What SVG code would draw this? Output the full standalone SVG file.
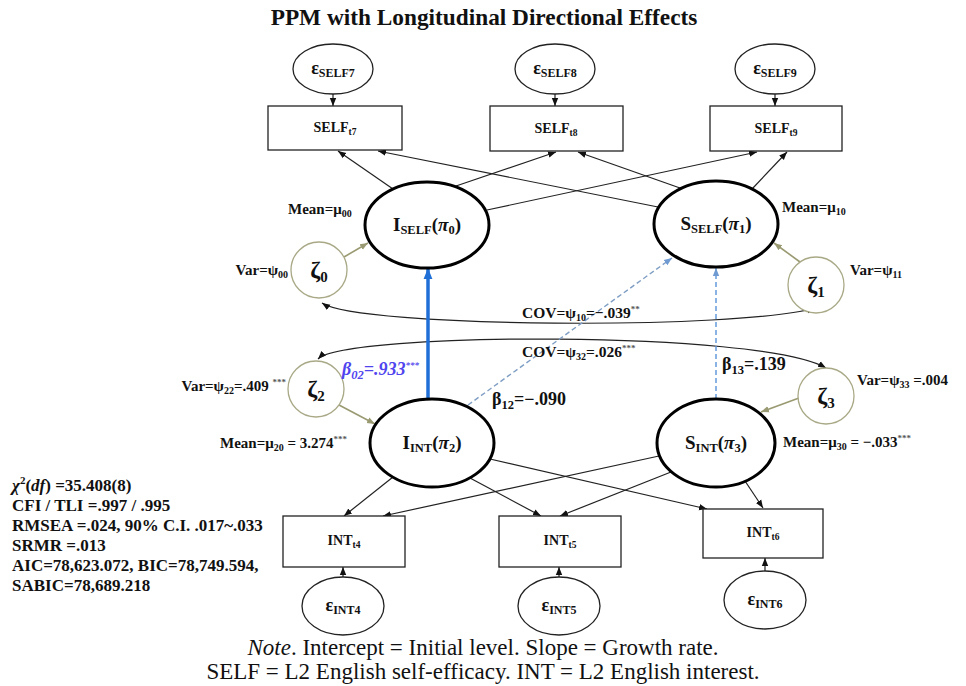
<svg xmlns="http://www.w3.org/2000/svg" width="966" height="686" viewBox="0 0 966 686">
<defs>
<style>
text{font-family:"Liberation Serif","Times New Roman",serif;font-weight:bold;fill:#111}
.title{font-size:23.3px;text-anchor:middle}
.note{font-size:23px;font-weight:normal;text-anchor:middle}
.box{fill:#fff;stroke:#222;stroke-width:1.3}
.bt{font-size:14px;text-anchor:middle}
.bs{font-size:9.5px}
.eps{fill:#fff;stroke:#222;stroke-width:1.3}
.et{font-size:18px;text-anchor:middle}
.es{font-size:12px;font-weight:bold}
.lat{fill:#fff;stroke:#000;stroke-width:3}
.lt{font-size:19px;text-anchor:middle}
.ls{font-size:12.5px}
.zeta{fill:#fff;stroke:#a9a987;stroke-width:1.3}
.zt{font-size:24px;text-anchor:middle}
.zs{font-size:15px}
.lb{font-size:15px}
.s{font-size:10px}
.sup{font-size:9px;fill:#555}
.cov{font-size:15.5px}
.beta{font-size:18px}
.bsub{font-size:12.5px}
.stats{font-size:17px}
.k{fill:none;stroke:#222;stroke-width:1.2}
.ol{fill:none;stroke:#9a9a72;stroke-width:1.6}
</style>
<marker id="ah" viewBox="0 0 10 10" refX="10" refY="5" markerWidth="8" markerHeight="8" markerUnits="userSpaceOnUse" orient="auto-start-reverse"><path d="M0,1 L10,5 L0,9 z" fill="#111"/></marker>
<marker id="ahb" viewBox="0 0 10 10" refX="10" refY="5" markerWidth="11" markerHeight="11" markerUnits="userSpaceOnUse" orient="auto"><path d="M0,1 L10,5 L0,9 z" fill="#1f6fd6"/></marker>
<marker id="ahd" viewBox="0 0 10 10" refX="10" refY="5" markerWidth="8" markerHeight="8" markerUnits="userSpaceOnUse" orient="auto"><path d="M0,1 L10,5 L0,9 z" fill="#6f9bd2"/></marker>
<marker id="aho" viewBox="0 0 10 10" refX="10" refY="5" markerWidth="8" markerHeight="8" markerUnits="userSpaceOnUse" orient="auto"><path d="M0,1 L10,5 L0,9 z" fill="#9a9a72"/></marker>
</defs>
<rect width="966" height="686" fill="#fff"/>

<text class="title" x="484" y="25">PPM with Longitudinal Directional Effects</text>

<g id="connectors">
  <line class="k" x1="333" y1="94" x2="333" y2="106" marker-end="url(#ah)"/>
  <line class="k" x1="555" y1="94" x2="555" y2="106" marker-end="url(#ah)"/>
  <line class="k" x1="775" y1="94" x2="775" y2="106" marker-end="url(#ah)"/>
  <line class="k" x1="343" y1="577" x2="343" y2="567" marker-end="url(#ah)"/>
  <line class="k" x1="559" y1="577" x2="559" y2="567" marker-end="url(#ah)"/>
  <line class="k" x1="765" y1="571" x2="765" y2="558" marker-end="url(#ah)"/>
  <line class="k" x1="393" y1="189" x2="338" y2="151" marker-end="url(#ah)"/>
  <line class="k" x1="456" y1="186" x2="556" y2="152" marker-end="url(#ah)"/>
  <line class="k" x1="487" y1="210" x2="757" y2="152" marker-end="url(#ah)"/>
  <line class="k" x1="658" y1="207" x2="378" y2="151" marker-end="url(#ah)"/>
  <line class="k" x1="680" y1="188" x2="578" y2="152" marker-end="url(#ah)"/>
  <line class="k" x1="752" y1="189" x2="787" y2="152" marker-end="url(#ah)"/>
  <line class="k" x1="393" y1="477" x2="344" y2="516" marker-end="url(#ah)"/>
  <line class="k" x1="470" y1="478" x2="541" y2="516" marker-end="url(#ah)"/>
  <line class="k" x1="490" y1="459" x2="707" y2="509" marker-end="url(#ah)"/>
  <line class="k" x1="659" y1="456" x2="383" y2="516" marker-end="url(#ah)"/>
  <line class="k" x1="671" y1="472" x2="560" y2="516" marker-end="url(#ah)"/>
  <line class="k" x1="745" y1="481" x2="763" y2="508" marker-end="url(#ah)"/>
  <line class="ol" x1="344" y1="257" x2="368" y2="243" marker-end="url(#aho)"/>
  <line class="ol" x1="800" y1="262" x2="774" y2="243" marker-end="url(#aho)"/>
  <line class="ol" x1="339" y1="405" x2="375" y2="424" marker-end="url(#aho)"/>
  <line class="ol" x1="799" y1="398" x2="761" y2="412" marker-end="url(#aho)"/>
  <path class="k" d="M322,303 C360,328 740,330 815,308" marker-start="url(#ah)" marker-end="url(#ah)"/>
  <path class="k" d="M318,359 C345,332 760,330 826,368" marker-start="url(#ah)" marker-end="url(#ah)"/>
  <line x1="428" y1="399" x2="428" y2="268" stroke="#1f6fd6" stroke-width="3.5" marker-end="url(#ahb)"/>
  <line x1="468" y1="405" x2="672" y2="258" stroke="#7f9ec4" stroke-width="1.4" stroke-dasharray="5,3" marker-end="url(#ahd)"/>
  <line x1="716" y1="399" x2="716" y2="268" stroke="#5a95da" stroke-width="1.4" stroke-dasharray="5,3" marker-end="url(#ahd)"/>
</g>

<g id="eps_self7"><ellipse class="eps" cx="333" cy="69" rx="40" ry="25"/><text class="et" x="333" y="74">ε<tspan class="es" dy="3">SELF7</tspan></text></g>
<g id="eps_self8"><ellipse class="eps" cx="555" cy="69" rx="40" ry="25"/><text class="et" x="555" y="74">ε<tspan class="es" dy="3">SELF8</tspan></text></g>
<g id="eps_self9"><ellipse class="eps" cx="775" cy="69" rx="40" ry="25"/><text class="et" x="775" y="74">ε<tspan class="es" dy="3">SELF9</tspan></text></g>

<g id="self_t7"><rect class="box" x="268" y="106" width="134" height="44"/><text class="bt" x="335" y="132">SELF<tspan class="bs" dy="3">t7</tspan></text></g>
<g id="self_t8"><rect class="box" x="490" y="106" width="133" height="45"/><text class="bt" x="556" y="133">SELF<tspan class="bs" dy="3">t8</tspan></text></g>
<g id="self_t9"><rect class="box" x="710" y="106" width="132" height="45"/><text class="bt" x="776" y="133">SELF<tspan class="bs" dy="3">t9</tspan></text></g>

<g id="i_self"><ellipse class="lat" cx="427" cy="225" rx="62" ry="43"/><text class="lt" x="427" y="231">I<tspan class="ls" dy="3">SELF</tspan><tspan dy="-3">(</tspan><tspan font-style="italic">π</tspan><tspan class="ls" dy="3">0</tspan><tspan dy="-3">)</tspan></text></g>
<g id="s_self"><ellipse class="lat" cx="716" cy="224" rx="62" ry="43"/><text class="lt" x="716" y="230">S<tspan class="ls" dy="3">SELF</tspan><tspan dy="-3">(</tspan><tspan font-style="italic">π</tspan><tspan class="ls" dy="3">1</tspan><tspan dy="-3">)</tspan></text></g>
<g id="i_int"><ellipse class="lat" cx="432" cy="443" rx="62" ry="44"/><text class="lt" x="432" y="449">I<tspan class="ls" dy="3">INT</tspan><tspan dy="-3">(</tspan><tspan font-style="italic">π</tspan><tspan class="ls" dy="3">2</tspan><tspan dy="-3">)</tspan></text></g>
<g id="s_int"><ellipse class="lat" cx="716" cy="443" rx="59" ry="44"/><text class="lt" x="716" y="449">S<tspan class="ls" dy="3">INT</tspan><tspan dy="-3">(</tspan><tspan font-style="italic">π</tspan><tspan class="ls" dy="3">3</tspan><tspan dy="-3">)</tspan></text></g>

<g id="zeta0"><circle class="zeta" cx="319" cy="270" r="28"/><text class="zt" x="319" y="278">ζ<tspan class="zs" dy="4">0</tspan></text></g>
<g id="zeta1"><circle class="zeta" cx="816" cy="285" r="28"/><text class="zt" x="816" y="293">ζ<tspan class="zs" dy="4">1</tspan></text></g>
<g id="zeta2"><circle class="zeta" cx="316" cy="389" r="28"/><text class="zt" x="316" y="397">ζ<tspan class="zs" dy="4">2</tspan></text></g>
<g id="zeta3"><circle class="zeta" cx="826" cy="396" r="28"/><text class="zt" x="826" y="404">ζ<tspan class="zs" dy="4">3</tspan></text></g>

<g id="int_t4"><rect class="box" x="283" y="516" width="122" height="51"/><text class="bt" x="344" y="545">INT<tspan class="bs" dy="3">t4</tspan></text></g>
<g id="int_t5"><rect class="box" x="499" y="516" width="122" height="51"/><text class="bt" x="560" y="545">INT<tspan class="bs" dy="3">t5</tspan></text></g>
<g id="int_t6"><rect class="box" x="703" y="509" width="120" height="49"/><text class="bt" x="763" y="537">INT<tspan class="bs" dy="3">t6</tspan></text></g>

<g id="eps_int4"><ellipse class="eps" cx="343" cy="606" rx="41" ry="29"/><text class="et" x="343" y="611">ε<tspan class="es" dy="3">INT4</tspan></text></g>
<g id="eps_int5"><ellipse class="eps" cx="559" cy="606" rx="41" ry="29"/><text class="et" x="559" y="611">ε<tspan class="es" dy="3">INT5</tspan></text></g>
<g id="eps_int6"><ellipse class="eps" cx="765" cy="600" rx="41" ry="29"/><text class="et" x="765" y="605">ε<tspan class="es" dy="3">INT6</tspan></text></g>

<g id="labels">
<text class="lb" x="288" y="214">Mean=μ<tspan class="s" dy="3">00</tspan></text>
<text class="lb" x="288" y="275" text-anchor="end">Var=ψ<tspan class="s" dy="3">00</tspan></text>
<text class="lb" x="782" y="212">Mean=μ<tspan class="s" dy="3">10</tspan></text>
<text class="lb" x="850" y="275">Var=ψ<tspan class="s" dy="3">11</tspan></text>
<text class="cov" x="522" y="318">COV=ψ<tspan class="s" dy="3">10</tspan><tspan dy="-3">=−.039</tspan><tspan class="sup" dy="-6">**</tspan></text>
<text class="cov" x="522" y="357">COV=ψ<tspan class="s" dy="3">32</tspan><tspan dy="-3">=.026</tspan><tspan class="sup" dy="-6">***</tspan></text>
<text class="beta" x="342" y="375" style="fill:#4f44ee;font-style:italic">β<tspan class="bsub" dy="4">02</tspan><tspan dy="-4">=.933</tspan><tspan class="sup" dy="-7" style="fill:#4f44ee">***</tspan></text>
<text class="lb" x="286" y="391" text-anchor="end">Var=ψ<tspan class="s" dy="3">22</tspan><tspan dy="-3">=.409 </tspan><tspan class="sup" dy="-6">***</tspan></text>
<text class="beta" x="492" y="405">β<tspan class="bsub" dy="4">12</tspan><tspan dy="-4">=−.090</tspan></text>
<text class="beta" x="722" y="370">β<tspan class="bsub" dy="4">13</tspan><tspan dy="-4">=.139</tspan></text>
<text class="lb" x="857" y="385">Var=ψ<tspan class="s" dy="3">33</tspan><tspan dy="-3"> =.004</tspan></text>
<text class="lb" x="220" y="448">Mean=μ<tspan class="s" dy="3">20</tspan><tspan dy="-3"> = 3.274</tspan><tspan class="sup" dy="-6">***</tspan></text>
<text class="lb" x="783" y="447">Mean=μ<tspan class="s" dy="3">30</tspan><tspan dy="-3"> = −.033</tspan><tspan class="sup" dy="-6">***</tspan></text>
</g>

<g id="fit">
<text class="stats" x="12" y="491"><tspan font-style="italic">χ</tspan><tspan font-size="11px" dy="-7">2</tspan><tspan dy="7">(</tspan><tspan font-style="italic">df</tspan>) =35.408(8)</text>
<text class="stats" x="12" y="511">CFI / TLI =.997 / .995</text>
<text class="stats" x="12" y="531">RMSEA =.024, 90% C.I. .017~.033</text>
<text class="stats" x="12" y="551">SRMR =.013</text>
<text class="stats" x="12" y="571">AIC=78,623.072, BIC=78,749.594,</text>
<text class="stats" x="12" y="591">SABIC=78,689.218</text>
</g>

<text class="note" x="483" y="655"><tspan font-style="italic">Note</tspan>. Intercept = Initial level. Slope = Growth rate.</text>
<text class="note" x="483" y="679">SELF = L2 English self-efficacy. INT = L2 English interest.</text>
</svg>
